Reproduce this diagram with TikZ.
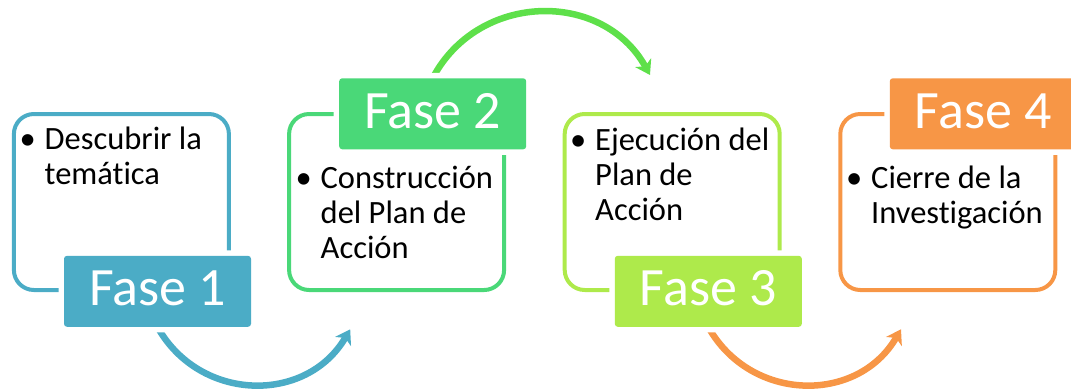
\documentclass[tikz,border=0pt]{standalone}
\usepackage{fontspec}
\setmainfont{Carlito}[Ligatures=NoCommon]
\usetikzlibrary{arrows.meta,backgrounds}

\definecolor{azulfase}{HTML}{4BACC6}
\definecolor{verdefase}{HTML}{4AD878}
\definecolor{verdeflecha}{HTML}{5EE04A}
\definecolor{limafase}{HTML}{AEEA4B}
\definecolor{naranjafase}{HTML}{F79646}

\newcommand{\vineta}{\leavevmode\llap{\textbullet\hspace{9pt}}}

\tikzset{
    caja/.style={draw=#1, line width=4pt, rounded corners=20pt, minimum width=215pt, minimum height=176pt, inner sep=0pt},
    etiqueta/.style={fill=#1, rounded corners=3pt, minimum width=187pt, minimum height=71pt, inner sep=0pt,
        text=white, font=\fontsize{54}{60}\selectfont, text depth=6pt, preaction={draw=white, line width=11pt}},
    texto/.style={anchor=base west, inner sep=0pt, font=\fontsize{32.5}{35}\selectfont},
    flecha/.style={draw=#1, line width=6.5pt, -{Stealth[length=14pt, width=18pt, inset=4pt]}}
}

\begin{document}
\begin{tikzpicture}[x=1pt, y=-1pt]

    \useasboundingbox (0,0) rectangle (1071,389);

    % Cajas de cada fase
    \node[caja=azulfase] (b1) at (121.4,202) {};
    \node[caja=verdefase] (b2) at (396.6,202) {};
    \node[caja=limafase] (b3) at (672.2,202) {};
    \node[caja=naranjafase] (b4) at (947.8,202) {};

    % Etiquetas
    \node[etiqueta=azulfase] (f1) at (157.5,291.3) {Fase 1};
    \node[etiqueta=verdefase] (f2) at (432.7,113.8) {Fase 2};
    \node[etiqueta=limafase] (f3) at (708.3,291.3) {Fase 3};
    \node[etiqueta=naranjafase] (f4) at (983.3,113.8) {Fase 4};

    % Textos
    \node[texto] (t1) at (44.5,149) {\parbox[t]{200pt}{\vineta Descubrir la\\temática}};
    \node[texto] (t2) at (320.5,188.3) {\parbox[t]{200pt}{\vineta Construcción\\del Plan de\\Acción}};
    \node[texto] (t3) at (595,150) {\parbox[t]{200pt}{\vineta Ejecución del\\Plan de\\Acción}};
    \node[texto] (t4) at (871,188.3) {\parbox[t]{200pt}{\vineta Cierre de la\\Investigación}};

    % Flechas entre fases
    \coordinate (p1) at (350.2,329.3);
    \coordinate (p2) at (650,75);
    \coordinate (p3) at (901,329.3);
    \begin{scope}[on background layer]
        \draw[flecha=azulfase] (f1.south) .. controls (199.9,402.5) and (306.6,404.2) .. (p1);
        \draw[flecha=verdeflecha] (f2.north) .. controls (478,-8) and (602.6,-10.6) .. (p2);
        \draw[flecha=naranjafase] (f3.south) .. controls (750.7,402.5) and (857.6,404.2) .. (p3);
    \end{scope}

\end{tikzpicture}
\end{document}
